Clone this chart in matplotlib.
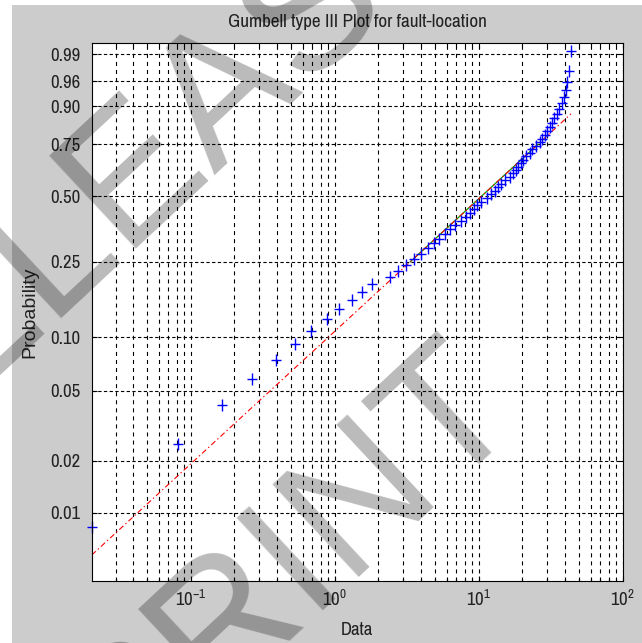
import numpy as np
import matplotlib
matplotlib.use('Agg')
import matplotlib.pyplot as plt
from matplotlib.path import Path
from matplotlib.patches import Rectangle
from matplotlib.ticker import FixedLocator, NullLocator, LogLocator, NullFormatter

# sorted fault-location data (60 samples)
data = np.array([
    0.0205, 0.0810, 0.164, 0.268, 0.388, 0.530, 0.685, 0.877, 1.071, 1.308,
    1.555, 1.824, 2.421, 2.752, 3.127, 3.553, 3.974, 4.445, 4.894, 5.300,
    5.834, 6.320, 6.846, 7.538, 8.162, 8.702, 9.277, 9.732, 10.37, 11.42,
    12.17, 12.98, 13.61, 14.29, 15.23, 16.50, 17.31, 18.16, 18.75, 19.67,
    20.31, 21.31, 22.72, 23.45, 25.00, 26.65, 27.52, 28.87, 29.81, 31.27,
    32.28, 33.33, 34.97, 36.11, 37.88, 39.12, 40.07, 41.04, 42.38, 43.75])

p_ticks = [0.01, 0.02, 0.05, 0.10, 0.25, 0.50, 0.75, 0.90, 0.96, 0.99]
p_labels = ['0.01', '0.02', '0.05', '0.10', '0.25', '0.50', '0.75', '0.90', '0.96', '0.99']
x_ticks = [0.1, 1, 10, 100]
x_labels = [r'$10^{-1}$', r'$10^{0}$', r'$10^{1}$', r'$10^{2}$']
p_lims = (0.00406, 0.99517)
x_max = 100


# weibull probability paper: y -> log(-log(1-p))
def wbl_fwd(p):
    p = np.clip(p, 1e-10, 1 - 1e-10)
    return np.log(-np.log1p(-p))


def wbl_inv(w):
    return -np.expm1(-np.exp(w))


plt.rcParams['font.family'] = ['Archivo Narrow', 'Roboto Condensed', 'Liberation Sans']
plt.rcParams['mathtext.fontset'] = 'custom'
plt.rcParams['mathtext.rm'] = 'Archivo Narrow'
plt.rcParams['mathtext.it'] = 'Archivo Narrow'
plt.rcParams['lines.scale_dashes'] = False

W, H = 642, 643
fig = plt.figure(figsize=(W / 100, H / 100), dpi=100)
fig.patch.set_facecolor('white')
fig.add_artist(Rectangle((12 / W, 0), 1, 1 - 5 / H, transform=fig.transFigure,
                         facecolor='#cccccc', edgecolor='none', zorder=-10))

ax = fig.add_axes([91.7 / W, 1 - 580.7 / H, (622.7 - 91.7) / W, (580.7 - 43.3) / H])
ax.set_xscale('log')
ax.set_yscale('function', functions=(wbl_fwd, wbl_inv))

n = len(data)
prob = (np.arange(1, n + 1) - 0.5) / n

# reference line through the quartiles, extended to the data range
q1, q3 = np.percentile(data, [25, 75], method='hazen')
w1, w3 = wbl_fwd(0.25), wbl_fwd(0.75)
slope = (w3 - w1) / (np.log(q3) - np.log(q1))
x_end = np.array([data.min(), data.max()])
p_end = wbl_inv(w1 + slope * (np.log(x_end) - np.log(q1)))

plus = Path([(-1, 0), (1, 0), (0, -1.3), (0, 1.3)],
            [Path.MOVETO, Path.LINETO, Path.MOVETO, Path.LINETO])

ax.plot([q1, q3], [0.25, 0.75], color='#00a000', lw=0.9)
ax.plot(x_end, p_end, color='red', lw=0.8, ls=(0, (4, 2, 1, 2)))
ax.plot(data, prob, ls='none', marker=plus, ms=9.1, mew=1.0, color='blue',
        clip_on=False)

ax.set_xlim(data.min(), x_max)
ax.set_ylim(*p_lims)
ax.yaxis.set_major_locator(FixedLocator(p_ticks))
ax.set_yticklabels(p_labels)
ax.yaxis.set_minor_locator(NullLocator())
ax.set_xticks(x_ticks, x_labels)
ax.xaxis.set_minor_locator(LogLocator(base=10, subs=np.arange(2, 10)))
ax.xaxis.set_minor_formatter(NullFormatter())

ax.grid(True, which='both', axis='x', color='k', lw=0.8, ls=(0, (2.9, 2.9)))
ax.grid(True, which='major', axis='y', color='k', lw=0.8, ls=(0, (2.4, 1.7)))
ax.tick_params(which='both', direction='in', top=True, right=True, color='k', width=0.8,
               labelsize=13.5, labelcolor='#222222')
ax.tick_params(which='major', length=3.6)
ax.tick_params(which='minor', length=2.2)
ax.tick_params(axis='y', pad=7.9)
ax.tick_params(axis='x', pad=6)
for s in ax.spines.values():
    s.set_linewidth(0.8)

ax.set_title('Gumbell type III Plot for fault-location', fontsize=13.8, color='#222222', pad=12)
ax.set_xlabel('Data', fontsize=13.5, color='#222222')
ax.xaxis.set_label_coords(0.5, -0.076)
ax.set_ylabel('Probability', fontsize=14, color='#222222', family='Liberation Sans')
ax.yaxis.set_label_coords(-0.100, 0.5)

# diagonal watermark
wm = dict(fontsize=132, family='Liberation Sans', color='k', alpha=0.27, rotation=43,
          rotation_mode='anchor', ha='left', va='baseline', zorder=10)
fig.text(-139 / W, 1 - 491.5 / H, 'RELEASE', **wm)
fig.text(120.4 / W, 1 - 785 / H, 'PRINT', **wm)

fig.savefig('out.png', dpi=100)
